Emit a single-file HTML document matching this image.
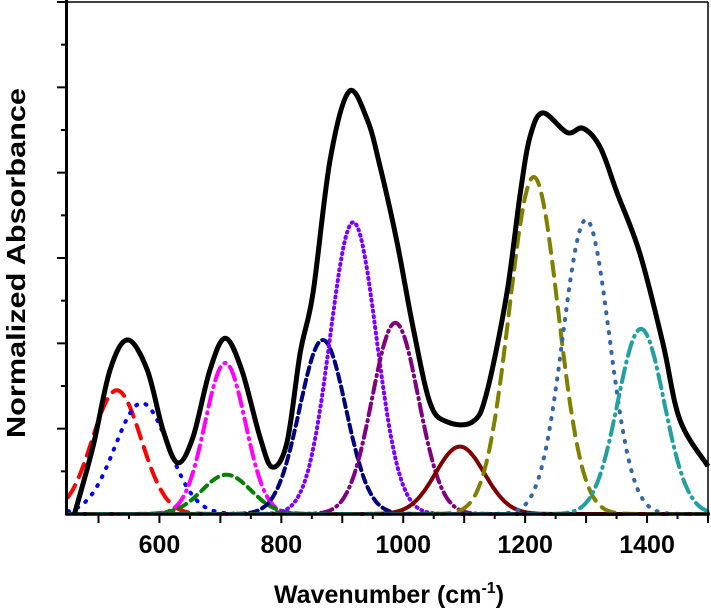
<!DOCTYPE html>
<html><head><meta charset="utf-8"><style>
html,body{margin:0;padding:0;background:#fff;}
svg{display:block;font-family:"Liberation Sans",Arial,sans-serif;}
</style></head><body>
<svg id="chart" width="711" height="612" viewBox="0 0 711 612">
<g id="plot"></g>
<g id="axes"></g>
<text x="389" y="603" text-anchor="middle" font-size="25" font-weight="bold">Wavenumber (cm<tspan font-size="16" dy="-10">-1</tspan><tspan dy="10">)</tspan></text>
<text transform="translate(25,263) rotate(-90)" text-anchor="middle" font-size="26" font-weight="bold" textLength="350" lengthAdjust="spacingAndGlyphs">Normalized Absorbance</text>
</svg>
<script>
// Data
const xTicks = [600, 800, 1000, 1200, 1400];
const totalWn = [461,491,519,548,580,606,630,655,683,708,735,765,785,809,831,852,880,911,941,962,990,1016,1044,1072,1114,1137,1170,1192,1208,1229,1269,1295,1323,1351,1388,1426,1454,1500];
const totalAbs = [0.01,0.79,1.69,2.04,1.69,0.98,0.60,0.90,1.69,2.06,1.69,0.90,0.55,0.83,1.89,2.59,4.15,4.95,4.62,4.07,3.18,2.19,1.30,1.08,1.08,1.42,2.59,3.76,4.42,4.70,4.47,4.52,4.30,3.76,3.06,2.00,1.10,0.56];
const peakNames = ["red","blue","magenta","green","navy","violet","purple","maroon","olive","steel","teal"];
const peakCenters = [530,571,708,710,868,918,987,1093,1214,1300,1390];
const peakAmps = [1.45,1.30,1.77,0.46,2.04,3.42,2.24,0.79,3.95,3.45,2.17];
const peakWidths = [40,44,33,40,38,38,38,40,40,38,38];

const colors = ["#ff0000","#0000ff","#ff00ff","#008000","#000080","#8000ff","#800080","#800000","#808000","#3366aa","#20a0a0"];
const dashes = ["14 9","1 9","14 6 1 6","8 6","8 5","1 4.5","12 5 1 5","none","14 9","1 9","14 6 1 6"];

const X0=68, X1=708, Y0=514, Y1=2, WMIN=450, WMAX=1500, AMAX=6;
const sx = w => X0 + (w-WMIN)*(X1-X0)/(WMAX-WMIN);
const sy = a => Y0 - a*(Y0-Y1)/AMAX;
const NS="http://www.w3.org/2000/svg";
const plot=document.getElementById('plot'), axes=document.getElementById('axes');

for(let i=0;i<peakCenters.length;i++){
  let d="";
  for(let w=WMIN; w<=WMAX; w+=2){
    const a=peakAmps[i]*Math.exp(-Math.pow(w-peakCenters[i],2)/(2*peakWidths[i]*peakWidths[i]));
    d+=(w===WMIN?"M":"L")+sx(w).toFixed(1)+","+sy(a).toFixed(1);
  }
  const p=document.createElementNS(NS,'path');
  p.setAttribute('d',d);p.setAttribute('fill','none');p.setAttribute('stroke',colors[i]);
  p.setAttribute('stroke-width','4');p.setAttribute('stroke-linecap','round');
  if(dashes[i]!=="none")p.setAttribute('stroke-dasharray',dashes[i]);
  
  
  plot.appendChild(p);
}
{
  const pts=totalWn.map((w,i)=>[sx(w),sy(totalAbs[i])]);
  let d="M"+pts[0][0]+","+pts[0][1];
  for(let i=0;i<pts.length-1;i++){
    const p0=pts[Math.max(0,i-1)],p1=pts[i],p2=pts[i+1],p3=pts[Math.min(pts.length-1,i+2)];
    const c1=[p1[0]+(p2[0]-p0[0])/6,p1[1]+(p2[1]-p0[1])/6];
    const c2=[p2[0]-(p3[0]-p1[0])/6,p2[1]-(p3[1]-p1[1])/6];
    d+=`C${c1[0].toFixed(1)},${c1[1].toFixed(1)} ${c2[0].toFixed(1)},${c2[1].toFixed(1)} ${p2[0].toFixed(1)},${p2[1].toFixed(1)}`;
  }
  const p=document.createElementNS(NS,'path');
  p.setAttribute('d',d);p.setAttribute('fill','none');p.setAttribute('stroke','#000');p.setAttribute('stroke-width','5');
  p.setAttribute('stroke-linejoin','round');
  
  
  plot.appendChild(p);
}
function line(x1,y1,x2,y2,w,name){
  const l=document.createElementNS(NS,'line');
  l.setAttribute('x1',x1);l.setAttribute('y1',y1);l.setAttribute('x2',x2);l.setAttribute('y2',y2);
  l.setAttribute('stroke','#000');l.setAttribute('stroke-width',w);
  
  
  axes.appendChild(l);
}
line(X0,Y1,X1,Y1,1.5,'top-frame');
line(X1,Y1,X1,Y0,1.5,'right-frame');
line(X0-1.5,0,X0-1.5,Y0+1.5,3,'y-axis');
line(X0-3,Y0,X1+1,Y0,3,'x-axis');
for(let w=500; w<=WMAX; w+=50){
  const major = w%100===0;
  line(sx(w),Y0,sx(w),Y0+(major?9:5),2,'x-tick');
}
for(let a=0.5; a<=AMAX; a+=0.5){
  const major = Math.abs(a-Math.round(a))<1e-6;
  line(X0-1.5,sy(a),X0-(major?11:7),sy(a),2,'y-tick');
}
xTicks.forEach(w=>{
  const t=document.createElementNS(NS,'text');
  t.setAttribute('x',sx(w));t.setAttribute('y',553);t.setAttribute('text-anchor','middle');
  t.setAttribute('font-size','25');t.setAttribute('font-weight','bold');
  t.textContent=w;
  
  
  axes.appendChild(t);
});
</script>
</body></html>
